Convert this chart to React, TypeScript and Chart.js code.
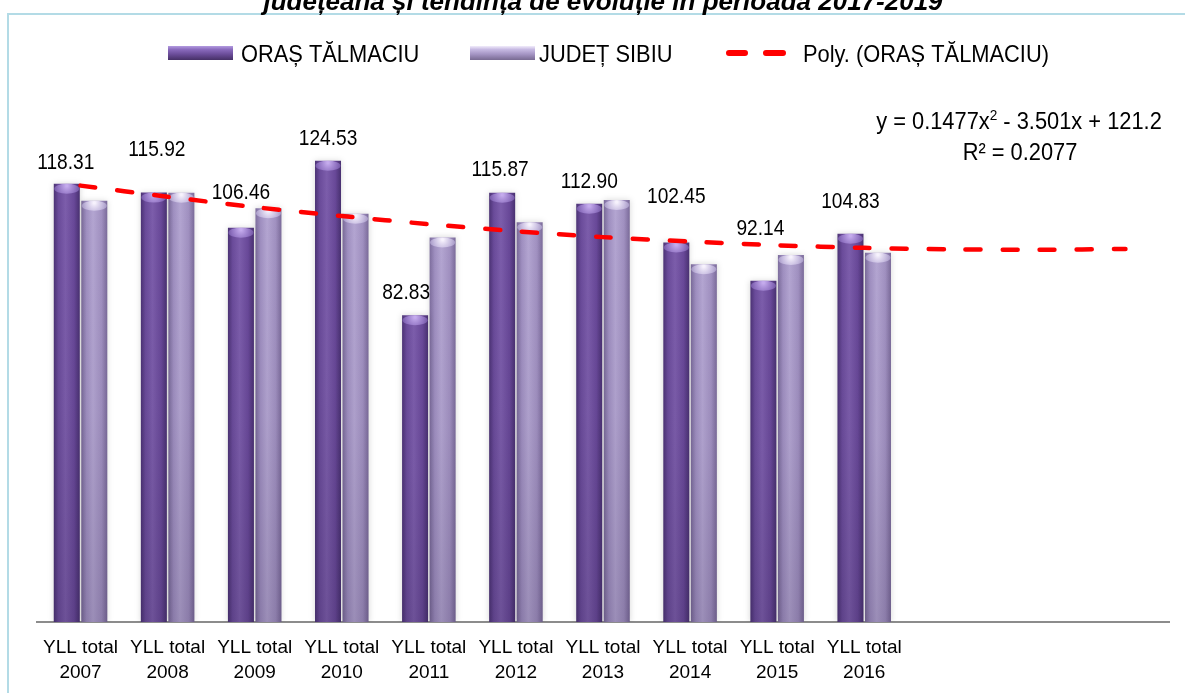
import React, { useEffect, useRef } from 'react';
import { Chart, registerables } from 'chart.js';

Chart.register(...registerables);

// ---------------- data ----------------
const categories: (string | string[])[] = [
  ['YLL total', '2007'],
  ['YLL total', '2008'],
  ['YLL total', '2009'],
  ['YLL total', '2010'],
  ['YLL total', '2011'],
  ['YLL total', '2012'],
  ['YLL total', '2013'],
  ['YLL total', '2014'],
  ['YLL total', '2015'],
  ['YLL total', '2016'],
  '',
  '',
  '',
];
const orasTalmaciu = [118.31, 115.92, 106.46, 124.53, 82.83, 115.87, 112.9, 102.45, 92.14, 104.83];
const judetSibiu = [113.7, 115.9, 111.7, 110.2, 103.8, 107.9, 113.9, 96.6, 99.1, 99.7];
const polyTrend = [117.8, 114.8, 112.0, 109.6, 107.4, 105.5, 103.9, 102.7, 101.7, 101.0, 100.6, 100.5, 100.7];
const seriesNames = ['ORAȘ TĂLMACIU', 'JUDEȚ SIBIU', 'Poly. (ORAȘ TĂLMACIU)'];
const titleText = 'județeană și tendința de evoluție în perioada 2017-2019';
const equationParts = ['y = 0.1477x', '2', ' - 3.501x + 121.2'];
const rSquaredText = 'R² = 0.2077';

// ---------------- styles ----------------
const labelOffsets = [
  [-1, -23], [3, -45], [0, -37], [0, -24], [-9, -24],
  [-2, -25], [0, -24], [0, -47], [-3, -54], [0, -34],
];
const SANS = '"Liberation Sans", Arial, sans-serif';
const darkStops: [number, string][] = [
  [0, '#4b3274'], [0.18, '#6a4b9a'], [0.45, '#7c5dab'], [0.78, '#684898'], [1, '#483070'],
];
const lightStops: [number, string][] = [
  [0, '#7d6d9d'], [0.2, '#9f8fc0'], [0.45, '#b3a5d1'], [0.78, '#a090c0'], [1, '#7a6a99'],
];

function drawText(
  ctx: CanvasRenderingContext2D,
  text: string,
  x: number,
  y: number,
  font: string,
  align: CanvasTextAlign = 'left',
  sx = 1,
  color = '#000',
) {
  ctx.save();
  ctx.translate(x, y);
  ctx.scale(sx, 1);
  ctx.font = font;
  ctx.textAlign = align;
  ctx.textBaseline = 'alphabetic';
  ctx.fillStyle = color;
  ctx.fillText(text, 0, 0);
  ctx.restore();
}

function textW(ctx: CanvasRenderingContext2D, text: string, font: string, sx = 1) {
  ctx.save();
  ctx.font = font;
  const w = ctx.measureText(text).width * sx;
  ctx.restore();
  return w;
}

const decorPlugin = {
  id: 'decor',
  beforeDraw(chart: any) {
    const ctx: CanvasRenderingContext2D = chart.ctx;
    // frame
    ctx.save();
    ctx.strokeStyle = '#b3dbe6';
    ctx.lineWidth = 2;
    ctx.strokeRect(8, 14, 1200, 700);
    ctx.restore();
    // clipped title
    drawText(ctx, titleText, 603, 9.5, `italic bold 26px ${SANS}`, 'center');

    // legend
    const lf = `24px ${SANS}`;
    const lsx = 0.91;
    const cy = 53;
    const swatch = (x: number, stops: [number, string][]) => {
      const g = ctx.createLinearGradient(0, 46, 0, 60);
      stops.forEach(([o, c]) => g.addColorStop(o, c));
      ctx.fillStyle = g;
      ctx.fillRect(x, 46, 65, 14);
    };
    swatch(168, [[0, '#b39be0'], [0.25, '#8a6bbd'], [0.6, '#6a4c98'], [1, '#463066']]);
    drawText(ctx, seriesNames[0], 241, cy + 8.5, lf, 'left', lsx);
    swatch(470, [[0, '#f1ecfb'], [0.25, '#c6b9e2'], [0.6, '#a393c2'], [1, '#786a92']]);
    drawText(ctx, seriesNames[1], 539, cy + 8.5, lf, 'left', lsx);
    ctx.save();
    ctx.strokeStyle = '#ff0000';
    ctx.lineWidth = 6;
    ctx.lineCap = 'round';
    ctx.beginPath();
    ctx.moveTo(729, cy);
    ctx.lineTo(745, cy);
    ctx.moveTo(766, cy);
    ctx.lineTo(783, cy);
    ctx.stroke();
    ctx.restore();
    drawText(ctx, seriesNames[2], 803, cy + 8.5, lf, 'left', lsx);

    // trend equation
    const ef = `24px ${SANS}`;
    const sf = `15px ${SANS}`;
    const w0 = textW(ctx, equationParts[0], ef, lsx);
    const w1 = textW(ctx, equationParts[1], sf, lsx);
    const w2 = textW(ctx, equationParts[2], ef, lsx);
    const tot = w0 + w1 + w2;
    let ex = 1019 - tot / 2;
    const ey = 129;
    drawText(ctx, equationParts[0], ex, ey, ef, 'left', lsx);
    ex += w0;
    drawText(ctx, equationParts[1], ex, ey - 9, sf, 'left', lsx);
    ex += w1;
    drawText(ctx, equationParts[2], ex, ey, ef, 'left', lsx);
    drawText(ctx, rSquaredText, 1020, 160, ef, 'center', lsx);
  },
  beforeDatasetsDraw(chart: any) {
    const ctx: CanvasRenderingContext2D = chart.ctx;
    [0, 1].forEach((di) => {
      const meta = chart.getDatasetMeta(di);
      const stops = di === 0 ? darkStops : lightStops;
      meta.data.forEach((el: any) => {
        if (!isFinite(el.x) || !isFinite(el.width)) return;
        const g = ctx.createLinearGradient(el.x - el.width / 2, 0, el.x + el.width / 2, 0);
        stops.forEach(([o, c]) => g.addColorStop(o, c));
        el.options = Object.assign({}, el.options, { backgroundColor: g });
      });
    });
  },
  beforeDatasetDraw(chart: any, args: any) {
    if (args.index > 1) return;
    const ctx: CanvasRenderingContext2D = chart.ctx;
    ctx.save();
    ctx.shadowColor = 'rgba(0,0,0,0.16)';
    ctx.shadowBlur = 6;
  },
  afterDatasetDraw(chart: any, args: any) {
    if (args.index > 1) return;
    const ctx: CanvasRenderingContext2D = chart.ctx;
    ctx.restore();
    const meta = chart.getDatasetMeta(args.index);
    meta.data.forEach((el: any) => {
      if (!isFinite(el.y) || !isFinite(el.x)) return;
      const l = el.x - el.width / 2;
      const w = el.width;
      const vg = ctx.createLinearGradient(0, el.y, 0, el.base);
      vg.addColorStop(0, 'rgba(30,20,50,0)');
      vg.addColorStop(0.5, 'rgba(30,20,50,0.04)');
      vg.addColorStop(1, 'rgba(30,20,50,0.16)');
      ctx.fillStyle = vg;
      ctx.fillRect(l, el.y, w, el.base - el.y);
      const cg = ctx.createRadialGradient(el.x, el.y + 2, 1, el.x, el.y + 3, w / 2);
      if (args.index === 0) {
        cg.addColorStop(0, 'rgba(200,175,240,0.95)');
        cg.addColorStop(1, 'rgba(140,110,195,0.6)');
      } else {
        cg.addColorStop(0, 'rgba(250,246,255,0.95)');
        cg.addColorStop(1, 'rgba(190,178,222,0.6)');
      }
      ctx.save();
      ctx.fillStyle = cg;
      ctx.beginPath();
      ctx.ellipse(el.x, el.y + 5, w / 2 - 0.5, 5, 0, 0, Math.PI * 2);
      ctx.fill();
      ctx.restore();
    });
  },
  afterDraw(chart: any) {
    const ctx: CanvasRenderingContext2D = chart.ctx;
    const meta = chart.getDatasetMeta(0);
    const f = `22px ${SANS}`;
    meta.data.forEach((el: any, i: number) => {
      const [dx, dy] = labelOffsets[i] || [0, -24];
      const v = orasTalmaciu[i];
      drawText(ctx, v.toFixed(2), el.x + dx, el.y + dy + 8, f, 'center', 0.87);
    });
  },
};

export default function App() {
  const ref = useRef<HTMLCanvasElement>(null);
  useEffect(() => {
    if (!ref.current) return;
    const chart = new Chart(ref.current, {
      type: 'bar',
      data: {
        labels: categories as any,
        datasets: [
          {
            type: 'bar',
            label: seriesNames[0],
            data: orasTalmaciu,
            backgroundColor: '#6a4b9a',
            borderWidth: 0,
            categoryPercentage: 0.632,
            barPercentage: 0.945,
            order: 2,
          },
          {
            type: 'bar',
            label: seriesNames[1],
            data: judetSibiu,
            backgroundColor: '#a090c0',
            borderWidth: 0,
            categoryPercentage: 0.632,
            barPercentage: 0.945,
            order: 2,
          },
          {
            type: 'line',
            label: seriesNames[2],
            data: polyTrend,
            borderColor: '#ff0000',
            borderWidth: 4.5,
            borderDash: [15, 22],
            borderCapStyle: 'round',
            pointRadius: 0,
            fill: false,
            tension: 0.3,
            order: 1,
          } as any,
        ],
      },
      options: {
        responsive: false,
        animation: false,
        devicePixelRatio: 1,
        layout: { padding: { left: 37, right: 16, top: 103.4, bottom: 0 } },
        plugins: {
          legend: { display: false },
          tooltip: { enabled: false },
          title: { display: false },
        },
        scales: {
          x: {
            offset: true,
            grid: { display: false, drawTicks: false },
            border: { display: true, color: '#8c8c8c', width: 2 },
            ticks: {
              color: '#000',
              padding: 14,
              autoSkip: false,
              maxRotation: 0,
              font: { family: SANS, size: 19, lineHeight: 1.29 },
            },
            afterFit: (scale: any) => {
              scale.height = 71;
            },
          },
          y: {
            display: false,
            min: 0,
            max: 140,
          },
        },
      },
      plugins: [decorPlugin],
    });
    return () => chart.destroy();
  }, []);
  return (
    <div style={{ position: 'fixed', left: 0, top: 0, width: 1185, height: 693, background: '#fff' }}>
      <canvas ref={ref} width={1185} height={693} style={{ display: 'block', width: 1185, height: 693 }} />
    </div>
  );
}
